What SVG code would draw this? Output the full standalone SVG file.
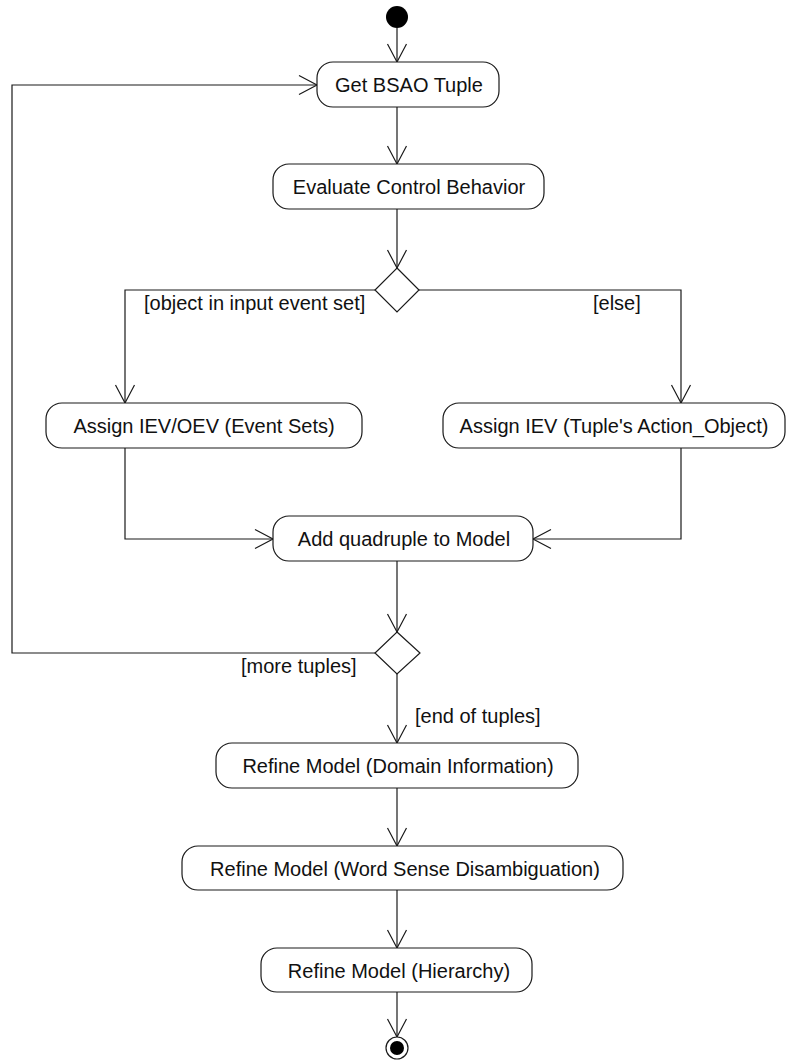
<svg xmlns="http://www.w3.org/2000/svg" width="787" height="1061" viewBox="0 0 787 1061">
  <style>
    .act { fill: #ffffff; stroke: #1a1a1a; stroke-width: 1.2; }
    .dec { fill: #ffffff; stroke: #1a1a1a; stroke-width: 1.2; }
    .lbl { font-family: "Liberation Sans", Arial, sans-serif; font-size: 20px; fill: #111; }
    .mid { text-anchor: middle; }
    .flow { fill: none; stroke: #1a1a1a; stroke-width: 1.2; marker-end: url(#open); }
  </style>
  <defs>
    <marker id="open" viewBox="-20 -11 22 22" refX="0" refY="0" markerWidth="22" markerHeight="22" markerUnits="userSpaceOnUse" orient="auto" overflow="visible">
      <path d="M-18,-9.5 L0,0 L-18,9.5" fill="none" stroke="#1a1a1a" stroke-width="1.2"/>
    </marker>
  </defs>
  <rect width="787" height="1061" fill="#ffffff"/>

  <g id="connectors">
    <path class="flow" d="M397,28 L397,62"/>
    <path class="flow" d="M397,107 L397,164"/>
    <path class="flow" d="M397,209 L397,268"/>
    <path class="flow" d="M375,290 L125,290 L125,403"/>
    <path class="flow" d="M419,290 L681,290 L681,403"/>
    <path class="flow" d="M125,448 L125,539 L273,539"/>
    <path class="flow" d="M681,448 L681,539 L533,539"/>
    <path class="flow" d="M397,561 L397,632"/>
    <path class="flow" d="M375,653 L12,653 L12,85 L317,85"/>
    <path class="flow" d="M397,674 L397,743"/>
    <path class="flow" d="M397,788 L397,846"/>
    <path class="flow" d="M397,890 L397,948"/>
    <path class="flow" d="M397,992 L397,1037"/>
    <text class="lbl" x="144" y="310">[object in input event set]</text>
    <text class="lbl" x="593" y="310">[else]</text>
    <text class="lbl" x="241" y="673">[more tuples]</text>
    <text class="lbl" x="415" y="723">[end of tuples]</text>
  </g>

  <g id="start">
    <circle cx="397" cy="17" r="11" fill="#000"/>
  </g>

  <g id="get-tuple">
    <rect class="act" x="317" y="62" width="182" height="45" rx="16"/>
    <text class="lbl mid" x="409" y="92">Get BSAO Tuple</text>
  </g>

  <g id="evaluate">
    <rect class="act" x="273" y="164" width="271" height="45" rx="16"/>
    <text class="lbl mid" x="409" y="194">Evaluate Control Behavior</text>
  </g>

  <g id="decision-input">
    <polygon class="dec" points="397,268 419,290 397,312 375,290"/>
  </g>

  <g id="assign-event-sets">
    <rect class="act" x="46" y="403" width="316" height="45" rx="16"/>
    <text class="lbl mid" x="204" y="433">Assign IEV/OEV (Event Sets)</text>
  </g>

  <g id="assign-action-object">
    <rect class="act" x="443" y="403" width="342" height="45" rx="16"/>
    <text class="lbl mid" x="614" y="433">Assign IEV (Tuple's Action_Object)</text>
  </g>

  <g id="add-quadruple">
    <rect class="act" x="273" y="516" width="260" height="45" rx="16"/>
    <text class="lbl mid" x="404" y="546">Add quadruple to Model</text>
  </g>

  <g id="decision-more">
    <polygon class="dec" points="397,632 420,653 397,674 375,653"/>
  </g>

  <g id="refine-domain">
    <rect class="act" x="216" y="743" width="362" height="45" rx="16"/>
    <text class="lbl mid" x="398" y="773">Refine Model (Domain Information)</text>
  </g>

  <g id="refine-wsd">
    <rect class="act" x="182" y="846" width="441" height="44" rx="16"/>
    <text class="lbl mid" x="405" y="876">Refine Model (Word Sense Disambiguation)</text>
  </g>

  <g id="refine-hierarchy">
    <rect class="act" x="261" y="948" width="271" height="44" rx="16"/>
    <text class="lbl mid" x="399" y="978">Refine Model (Hierarchy)</text>
  </g>

  <g id="end">
    <circle cx="397" cy="1048" r="11" fill="#ffffff" stroke="#1a1a1a" stroke-width="1.2"/>
    <circle cx="397" cy="1048" r="7" fill="#000"/>
  </g>
</svg>
